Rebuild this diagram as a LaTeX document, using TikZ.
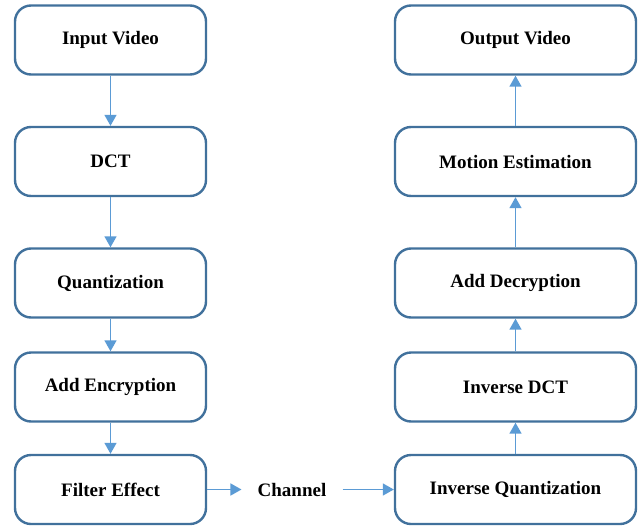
\documentclass[tikz,border=0pt]{standalone}
\usepackage{fontspec}
\setmainfont{Liberation Serif}
\usetikzlibrary{arrows.meta}
\definecolor{boxline}{RGB}{65,113,156}
\definecolor{flowline}{RGB}{91,155,213}
\tikzset{
  stage/.style={draw=boxline, line width=2.4pt, fill=white, rounded corners=16pt,
    minimum height=69pt, inner sep=0pt,
    font=\fontsize{19}{22}\selectfont\bfseries, text=black},
  leftstage/.style={stage, minimum width=191pt},
  rightstage/.style={stage, minimum width=241pt},
  flow/.style={draw=flowline, line width=1.5pt, -{Triangle[width=12pt,length=11pt]}},
  plain/.style={font=\fontsize{19}{22}\selectfont\bfseries, text=black, inner xsep=16pt, inner ysep=0pt}
}
\begin{document}
\begin{tikzpicture}[x=1pt,y=-1pt]
  \useasboundingbox[fill=white] (0,0) rectangle (639,527);

  % encoder side
  \node[leftstage]  (inp)  at (110.5,40)    {Input Video};
  \node[leftstage]  (dct)  at (110.5,161.5) {DCT};
  \node[leftstage]  (quan) at (110.5,283)   {Quantization};
  \node[leftstage]  (enc)  at (110.5,387)   {Add Encryption};
  \node[leftstage]  (filt) at (110.5,489.5) {Filter Effect};

  % decoder side
  \node[rightstage] (outv) at (515.5,40)    {Output Video};
  \node[rightstage] (mot)  at (515.5,161.5) {Motion Estimation};
  \node[rightstage] (dec)  at (515.5,283)   {Add Decryption};
  \node[rightstage] (idct) at (515.5,387)   {Inverse DCT};
  \node[rightstage] (iq)   at (515.5,489.5) {Inverse Quantization};

  % transmission channel
  \node[plain] (chan) at (292,490) {Channel};

  \draw[flow] (inp.south)  -- (dct.north);
  \draw[flow] (dct.south)  -- (quan.north);
  \draw[flow] (quan.south) -- (enc.north);
  \draw[flow] (enc.south)  -- (filt.north);
  \draw[flow] (filt.east)  -- (chan.west |- filt.east);
  \draw[flow] (chan.east |- iq.west) -- (iq.west);
  \draw[flow] (iq.north)   -- (idct.south);
  \draw[flow] (idct.north) -- (dec.south);
  \draw[flow] (dec.north)  -- (mot.south);
  \draw[flow] (mot.north)  -- (outv.south);
\end{tikzpicture}
\end{document}
